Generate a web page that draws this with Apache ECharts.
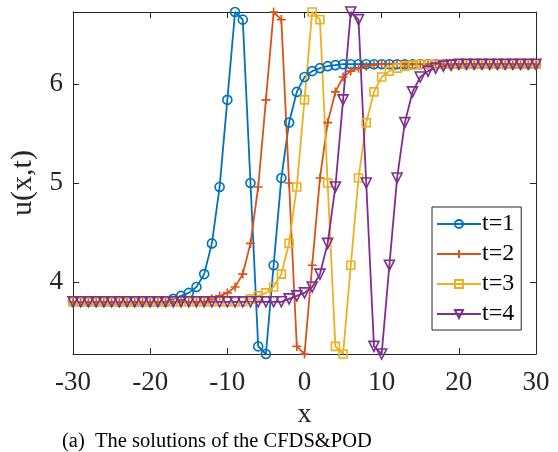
<!DOCTYPE html>
<html>
<head>
<meta charset="utf-8">
<script src="https://cdn.jsdelivr.net/npm/echarts@6/dist/echarts.min.js"></script>
<style>
html,body{margin:0;padding:0;background:#fff;}
#chart{width:558px;height:452px;}
</style>
</head>
<body>
<div id="chart"></div>
<script>
const xValues = [-30,-29,-28,-27,-26,-25,-24,-23,-22,-21,-20,-19,-18,-17,-16,-15,-14,-13,-12,-11,-10,-9,-8,-7,-6,-5,-4,-3,-2,-1,0,1,2,3,4,5,6,7,8,9,10,11,12,13,14,15,16,17,18,19,20,21,22,23,24,25,26,27,28,29,30];

const u_t1 = [3.80,3.80,3.80,3.80,3.80,3.80,3.80,3.80,3.80,3.80,3.80,3.80,3.80,
  3.83,3.86,3.89,3.95,4.08,4.39,4.96,5.84,6.727,6.65,5.00,3.35,3.273,4.17,5.05,5.61,5.92,6.07,6.13,6.16,6.18,6.19,
  6.20,6.20,6.20,6.20,6.20,6.20,6.20,6.20,6.20,6.20,6.20,6.20,6.20,6.20,6.20,6.20,6.20,6.20,6.20,6.20,6.20,6.20,6.20,6.20,6.20,6.20];

const u_t2 = [3.80,3.80,3.80,3.80,3.80,3.80,3.80,3.80,3.80,3.80,3.80,3.80,3.80,3.80,3.80,3.80,3.80,3.80,
  3.83,3.86,3.89,3.95,4.08,4.39,4.96,5.84,6.727,6.65,5.00,3.35,3.273,4.17,5.05,5.61,5.92,6.07,6.13,6.16,6.18,6.19,
  6.20,6.20,6.20,6.20,6.20,6.20,6.20,6.20,6.20,6.20,6.20,6.20,6.20,6.20,6.20,6.20,6.20,6.20,6.20,6.20,6.20];

const u_t3 = [3.80,3.80,3.80,3.80,3.80,3.80,3.80,3.80,3.80,3.80,3.80,3.80,3.80,3.80,3.80,3.80,3.80,3.80,3.80,3.80,3.80,3.80,3.80,
  3.83,3.86,3.89,3.95,4.08,4.39,4.96,5.84,6.727,6.65,5.00,3.35,3.273,4.17,5.05,5.61,5.92,6.07,6.13,6.16,6.18,6.19,
  6.20,6.20,6.20,6.20,6.20,6.20,6.20,6.20,6.20,6.20,6.20,6.20,6.20,6.20,6.20,6.20];

const u_t4 = [3.80,3.80,3.80,3.80,3.80,3.80,3.80,3.80,3.80,3.80,3.80,3.80,3.80,3.80,3.80,3.80,3.80,3.80,3.80,3.80,3.80,3.80,3.80,3.80,3.80,3.80,3.80,3.80,
  3.83,3.86,3.89,3.95,4.08,4.39,4.96,5.84,6.727,6.65,5.00,3.35,3.273,4.17,5.05,5.61,5.92,6.07,6.13,6.16,6.18,6.19,
  6.20,6.20,6.20,6.20,6.20,6.20,6.20,6.20,6.20,6.20,6.20];

const seriesNames = ['t=1','t=2','t=3','t=4'];
const xTicks = [-30,-20,-10,0,10,20,30];
const yTicks = [4,5,6];

const colors = ['#0072BD','#D95319','#EDB120','#7E2F8E'];
const symbols = ['circle','path://M5,0 L5,10 M0,5 L10,5','rect','path://M0,0 L10,0 L5,9 Z'];
const symbolSizes = [9,9,8,10];
const FONT = '"Liberation Serif","Times New Roman",serif';
const AX = '#262626';

function pairs(ys){ return xValues.map((x,i)=>[x, ys[i]]); }
const allData = [u_t1,u_t2,u_t3,u_t4];

const chart = echarts.init(document.getElementById('chart'), null, {renderer:'canvas'});

const baseX = {
  type:'value', min:-30, max:30, interval:10,
  axisLine:{show:true, onZero:false, lineStyle:{color:AX, width:1}},
  axisTick:{show:true, inside:true, length:6, lineStyle:{color:AX, width:1}},
  splitLine:{show:false}
};
const isTick = v => yTicks.some(t => Math.abs(t - v) < 1e-6);
const baseY = {
  type:'value', min:3.273, max:6.727, minInterval:1, maxInterval:1, splitNumber:3,
  axisLine:{show:true, onZero:false, lineStyle:{color:AX, width:1}},
  axisTick:{show:true, inside:true, length:6, lineStyle:{color:AX, width:1}},
  splitLine:{show:false}
};

const option = {
  backgroundColor:'#fff',
  animation:false,
  grid:{left:73, right:22, top:12, bottom:98},
  xAxis:[
    Object.assign({}, baseX, {
      position:'bottom',
      name:'x', nameLocation:'middle', nameGap:47,
      nameTextStyle:{fontFamily:FONT, fontSize:28, color:AX},
      axisLabel:{show:true, fontFamily:FONT, fontSize:27, color:AX, margin:15,
        formatter: v => xTicks.includes(v) ? String(v) : ''}
    }),
    Object.assign({}, baseX, {position:'top', axisLabel:{show:false}})
  ],
  yAxis:[
    Object.assign({}, baseY, {
      position:'left',
      name:'u(x,t)', nameLocation:'middle', nameGap:30,
      nameTextStyle:{fontFamily:FONT, fontSize:30, color:AX},
      axisLabel:{show:true, fontFamily:FONT, fontSize:27, color:AX, margin:10,
        showMinLabel:false, showMaxLabel:false,
        formatter: v => isTick(v) ? String(Math.round(v)) : ''}
    }),
    Object.assign({}, baseY, {position:'right', axisLabel:{show:false}})
  ],
  legend:{
    show:true, orient:'vertical', left:432, top:207,
    backgroundColor:'#fff', borderColor:AX, borderWidth:1,
    padding:[5,7,4,4], itemGap:6, itemWidth:44, itemHeight:10,
    textStyle:{fontFamily:FONT, fontSize:24, lineHeight:24, color:'#000', padding:[0,0,0,-4]},
    data: seriesNames
  },
  series: seriesNames.map((nm,i)=>({
    name:nm, type:'line', xAxisIndex:0, yAxisIndex:0,
    data: pairs(allData[i]),
    symbol: symbols[i], symbolSize: symbolSizes[i], showAllSymbol:true,
    lineStyle:{color:colors[i], width:1.8},
    itemStyle:{color:'rgba(255,255,255,0)', borderColor:colors[i], borderWidth:1.6},
    emphasis:{disabled:true},
    clip:true
  })),
  graphic:[{
    type:'text', left:62, top:431,
    style:{text:'(a)  The solutions of the CFDS&POD', font:'20.5px ' + FONT, fill:'#000'}
  }]
};
chart.setOption(option);
</script>
</body>
</html>
